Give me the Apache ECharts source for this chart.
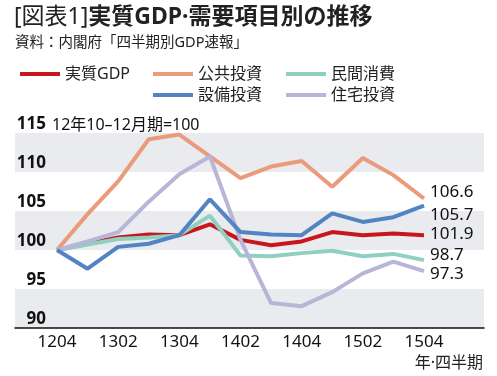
<!DOCTYPE html>
<html><head><meta charset="utf-8">
<script src="https://cdn.jsdelivr.net/npm/echarts@6/dist/echarts.min.js"></script>
<style>html,body{margin:0;padding:0;background:#fff}#c{width:497px;height:376px}</style>
</head><body><div id="c"></div>
<script>
const categories = ['1204','1301','1302','1303','1304','1401','1402','1403','1404','1501','1502','1503','1504'];
const labelIdx = [0,2,4,6,8,10,12];
const seriesNames = ['実質GDP','公共投資','民間消費','設備投資','住宅投資'];
const gdp     = [100, 100.8, 101.6, 102.0, 101.9, 103.3, 101.3, 100.6, 101.1, 102.3, 101.9, 102.1, 101.9];
const public_ = [100, 104.6, 108.8, 114.2, 114.8, 112.0, 109.2, 110.7, 111.4, 108.1, 111.8, 109.6, 106.6];
const consume = [100, 100.7, 101.4, 101.6, 101.9, 104.4, 99.3, 99.2, 99.6, 99.9, 99.2, 99.5, 98.7];
const capex   = [100, 97.6, 100.4, 100.8, 101.9, 106.5, 102.3, 102.0, 101.9, 104.7, 103.6, 104.2, 105.7];
const housing = [100, 101.1, 102.3, 106.2, 109.7, 112.0, 101.3, 93.2, 92.8, 94.6, 97.0, 98.5, 97.3];
const yTicks = [90, 95, 100, 105, 110, 115];

const colors = {'実質GDP':'#c8161e','公共投資':'#eb9b7b','民間消費':'#8fd0c0','設備投資':'#5283c2','住宅投資':'#b9b5d9'};
const valuesBy = {'実質GDP':gdp,'公共投資':public_,'民間消費':consume,'設備投資':capex,'住宅投資':housing};
const endOffset = {'実質GDP':-1,'公共投資':-6,'民間消費':-5,'設備投資':10,'住宅投資':3};
const zOrder = {'実質GDP':2,'民間消費':3,'公共投資':4,'住宅投資':5,'設備投資':6};
const FF = '"Noto Sans","Noto Sans CJK JP",sans-serif';

const chart = echarts.init(document.getElementById('c'), null, {renderer:'canvas'});
const series = seriesNames.map(name => {
  const vals = valuesBy[name];
  return {
    name, type:'line', z: zOrder[name],
    symbol:'circle', symbolSize:0, showSymbol:true,
    lineStyle:{width:4, color:colors[name]},
    itemStyle:{color:colors[name]},
    emphasis:{disabled:true},
    data: vals.map((v,i) => i === vals.length-1
      ? {value:[i,v], label:{show:true, position:'right', distance:6, offset:[0,endOffset[name]],
          formatter: p => p.value[1].toFixed(1), color:'#111', fontSize:17, fontFamily:FF}}
      : [i,v])
  };
});

const legendText = {color:'#222', fontSize:16, fontFamily:FF, width:78, lineHeight:20};
chart.setOption({
  animation:false,
  textStyle:{fontFamily:FF},
  grid:{left:15, right:13, top:133, bottom:48},
  legend:[
    {data:['実質GDP','公共投資','民間消費'], left:15, top:59, icon:'rect', itemWidth:40, itemHeight:4, itemGap:10, textStyle:legendText, selectedMode:false},
    {data:['設備投資','住宅投資'], left:148, top:80, icon:'rect', itemWidth:40, itemHeight:4, itemGap:10, textStyle:legendText, selectedMode:false}
  ],
  xAxis:{
    type:'value', min:-1.373, max:13.962,
    splitLine:{show:false},
    axisLine:{show:true, lineStyle:{color:'#111', width:1.5}},
    axisTick:{show:false},
    axisLabel:{customValues: labelIdx, formatter: v => categories[v], color:'#111', fontSize:17, margin:6, fontFamily:FF}
  },
  yAxis:{
    type:'value', min:90, max:115, interval:5,
    axisLine:{show:false}, axisTick:{show:false},
    splitLine:{show:false},
    splitArea:{show:true, areaStyle:{color:['#e9ebee','#ffffff']}},
    axisLabel:{inside:true, align:'right', verticalAlign:'bottom', margin:31, padding:[0,0,0,0],
      color:'#111', fontSize:17, fontWeight:'bold', fontFamily:FF,
      formatter: v => yTicks.includes(v) ? String(v) : ''}
  },
  graphic:[
    {type:'text', left:14, top:6, style:{
      text:'{a|[図表1]}{b|実質GDP·需要項目別の推移}',
      rich:{a:{fontSize:23, fontFamily:FF, fill:'#222'}, b:{fontSize:23, fontWeight:'bold', fontFamily:FF, fill:'#222'}}}},
    {type:'text', left:15, top:36, style:{text:'資料：内閣府「四半期別GDP速報」', fontSize:14.5, fontFamily:FF, fill:'#222'}},
    {type:'text', left:52, top:117, style:{text:'12年10–12月期=100', fontSize:16, fontFamily:FF, fill:'#111'}},
    {type:'text', right:14, top:355, style:{text:'年·四半期', fontSize:16, fontFamily:FF, fill:'#222'}}
  ],
  series
});
</script></body></html>
